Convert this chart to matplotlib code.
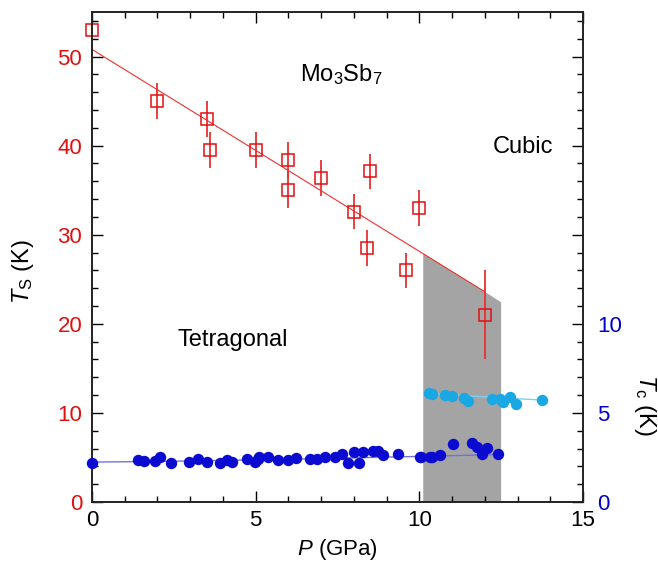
import matplotlib
matplotlib.use("Agg")
import matplotlib.pyplot as plt
from matplotlib.ticker import MultipleLocator, FuncFormatter

plt.rcParams['font.family'] = ['Liberation Sans', 'DejaVu Sans']
plt.rcParams['mathtext.fontset'] = 'custom'
plt.rcParams['mathtext.rm'] = 'Liberation Sans'
plt.rcParams['mathtext.it'] = 'Liberation Sans:italic'
plt.rcParams['mathtext.bf'] = 'Liberation Sans:bold'

# ---- data ----
ts_P = [0, 2.0, 3.5, 3.6, 5.0, 6.0, 6.0, 7.0, 8.0, 8.4, 8.5, 9.6, 10.0, 12.0]
ts_T = [53.0, 45.0, 43.0, 39.5, 39.5, 38.4, 35.0, 36.4, 32.6, 28.5, 37.1, 26.0, 33.0, 21.0]
ts_err = [0, 2, 2, 2, 2, 2, 2, 2, 2, 2, 2, 2, 2, 5]

ts_fit_P = [0, 12.0]
ts_fit_T = [50.8, 23.6]

gray_P = [10.12, 10.12, 12.0, 12.5, 12.5]
gray_T = [0, 27.9, 23.6, 22.4, 0]

tc1_P = [0, 1.40, 1.60, 1.92, 2.08, 2.41, 2.96, 3.25, 3.52, 3.91, 4.11, 4.29, 4.75, 4.98, 5.10,
         5.06, 5.39, 5.69, 6.00, 6.22, 6.66, 6.86, 7.12, 7.42, 7.65, 7.83, 8.16, 7.99, 8.29,
         8.60, 8.75, 8.90, 9.36, 10.02, 10.33, 10.04, 10.38, 10.63, 11.02, 11.62, 11.75,
         11.91, 12.08, 12.41]
tc1_T = [2.21, 2.36, 2.29, 2.32, 2.51, 2.21, 2.27, 2.41, 2.25, 2.17, 2.36, 2.27, 2.40, 2.27, 2.55,
         2.40, 2.51, 2.36, 2.36, 2.45, 2.42, 2.40, 2.55, 2.51, 2.70, 2.17, 2.17, 2.83, 2.83,
         2.88, 2.88, 2.64, 2.70, 2.51, 2.55, 2.55, 2.55, 2.64, 3.24, 3.33, 3.11,
         2.68, 3.01, 2.70]
tc1_fit_P = [0, 3, 6, 9, 10.5, 12.4]
tc1_fit_T = [2.24, 2.30, 2.40, 2.52, 2.58, 2.66]

tc2_P = [10.31, 10.38, 10.77, 10.99, 11.35, 11.50, 12.21, 12.45, 12.57, 12.77, 12.95, 13.74]
tc2_T = [6.10, 6.07, 6.01, 5.97, 5.82, 5.69, 5.79, 5.79, 5.60, 5.92, 5.49, 5.73]
tc2_fit_P = [10.31, 13.74]
tc2_fit_T = [6.08, 5.72]

RED = '#e01010'
BLUE = '#0000cc'
DBLUE = '#0a0ad0'
LBLUE = '#1aa8e4'

fig = plt.figure(figsize=(6.58, 5.65), dpi=100)
ax = fig.add_axes([0.1398, 0.1115, 0.7462, 0.8673])
ax2 = ax.twinx()

ax.set_xlim(0, 15)
ax.set_ylim(0, 55)
ax2.set_ylim(0, 27.5)

# gray region
ax.fill(gray_P, gray_T, color='#a4a4a4', lw=0, zorder=1)
# Ts fit and data
ax.plot(ts_fit_P, ts_fit_T, color='#f03030', lw=0.8, zorder=2)
ax.errorbar(ts_P, ts_T, yerr=ts_err, fmt='s', ms=8.5, mfc='none', mec=RED, mew=1.1,
            ecolor='#e83030', elinewidth=1.3, capsize=0, zorder=3, clip_on=False)

# Tc data on right axis
ax2.plot(tc1_fit_P, tc1_fit_T, color='#7070e0', lw=1.0, zorder=2)
ax2.plot(tc2_fit_P, tc2_fit_T, color='#80d0f0', lw=1.0, zorder=2)
ax2.plot(tc1_P, tc1_T, 'o', color=DBLUE, ms=8.2, mew=0, zorder=3, clip_on=False)
ax2.plot(tc2_P, tc2_T, 'o', color=LBLUE, ms=8.2, mew=0, zorder=3)

# ticks
ax.xaxis.set_major_locator(MultipleLocator(5))
ax.xaxis.set_minor_locator(MultipleLocator(1))
ax.yaxis.set_major_locator(MultipleLocator(10))
ax.yaxis.set_minor_locator(MultipleLocator(2))
ax2.yaxis.set_major_locator(MultipleLocator(5))
ax2.yaxis.set_minor_locator(MultipleLocator(1))
ax2.yaxis.set_major_formatter(FuncFormatter(lambda v, p: f'{int(round(v))}' if v <= 10.5 else ''))

ax.tick_params(axis='x', which='both', direction='in', top=True, bottom=True, labelsize=16, pad=6)
ax.tick_params(axis='x', which='major', length=8, width=1)
ax.tick_params(axis='x', which='minor', length=4.5, width=1)
ax.tick_params(axis='y', which='both', direction='in', left=True, right=False, labelsize=16,
               labelcolor=RED, pad=7)
ax.tick_params(axis='y', which='major', length=8, width=1)
ax.tick_params(axis='y', which='minor', length=4.5, width=1)
ax2.tick_params(axis='y', which='both', direction='in', right=True, labelsize=16,
                labelcolor=BLUE, pad=10)
ax2.tick_params(axis='y', which='major', length=8, width=1)
ax2.tick_params(axis='y', which='minor', length=4, width=1)

for a in (ax, ax2):
    for s in a.spines.values():
        s.set_linewidth(1.2)
        s.set_color('#222222')

ax.set_xlabel(r'$P$ (GPa)', fontsize=16, labelpad=4)
ax.set_ylabel(r'$T_{\rm S}$ (K)', fontsize=17, va='center', ha='center')
ax.yaxis.set_label_coords(-0.14, 0.471)
ax2.set_ylabel(r'$T_{\rm c}$ (K)', fontsize=17, rotation=270, va='center', ha='center')
ax2.yaxis.set_label_coords(1.126, 0.198)

ax.text(6.35, 48.0, r'Mo$_3$Sb$_7$', fontsize=17, ha='left', va='center')
ax.text(12.25, 39.9, 'Cubic', fontsize=17, ha='left', va='center')
ax.text(2.6, 18.2, 'Tetragonal', fontsize=17, ha='left', va='center')

fig.savefig('out.png', dpi=100)
